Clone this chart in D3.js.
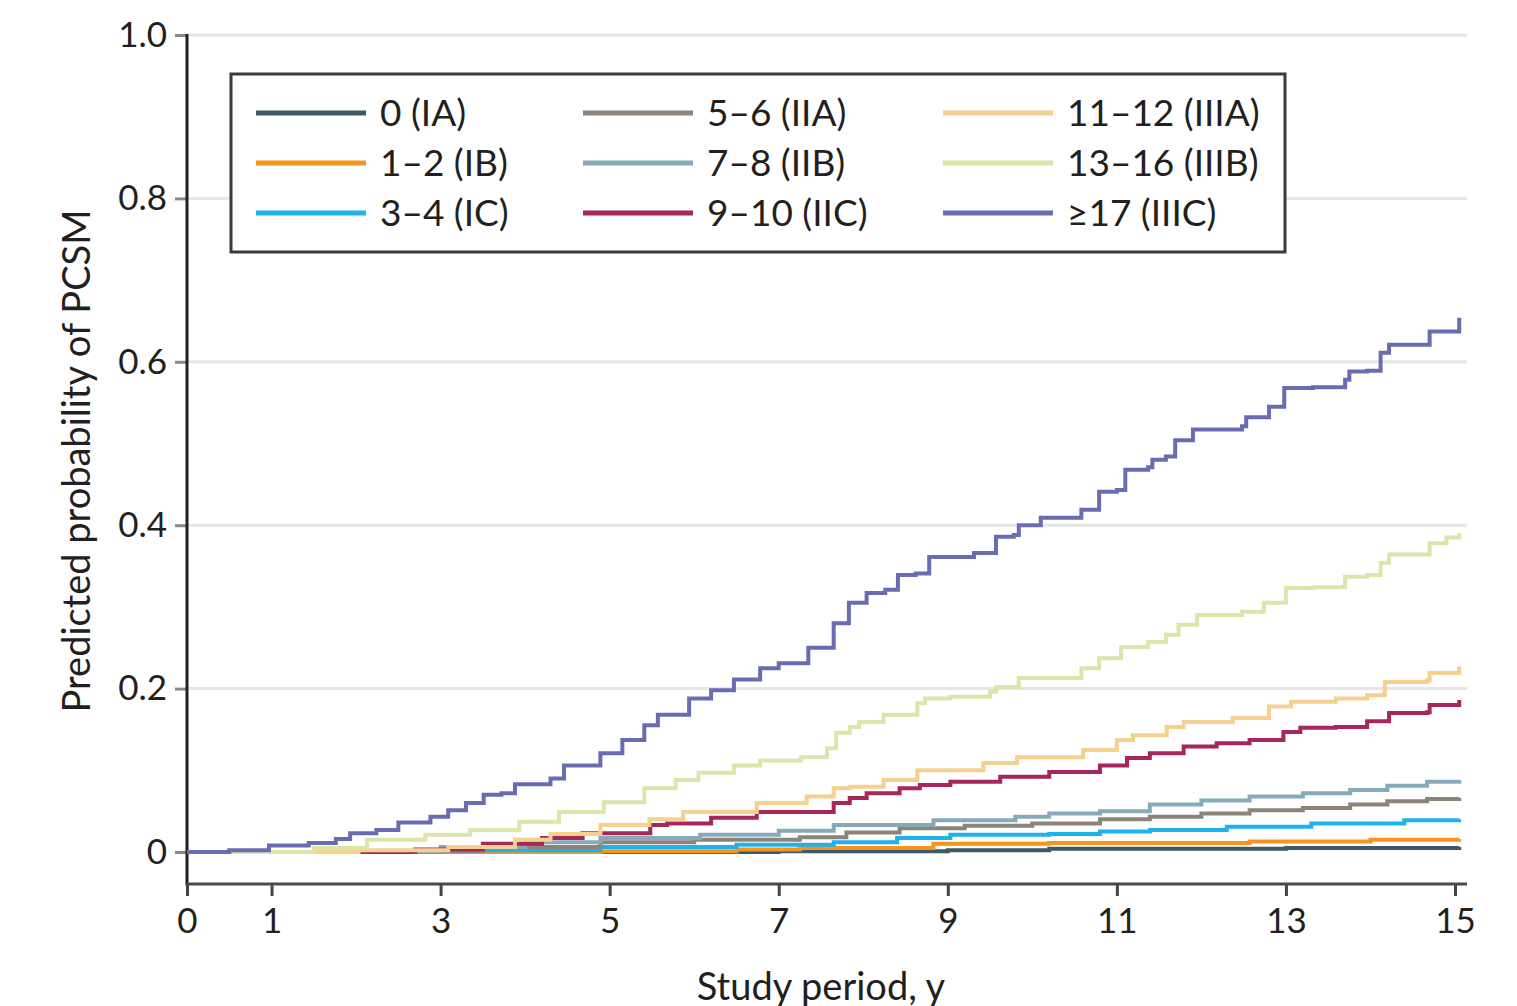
<!DOCTYPE html>
<html>
<head>
<meta charset="utf-8">
<script src="https://cdn.jsdelivr.net/npm/d3@7"></script>
<style>
  body { margin: 0; background: #fff; }
  svg { display: block; font-family: Lato, "Open Sans", sans-serif; }
</style>
</head>
<body>
<svg id="chart" width="1517" height="1006"></svg>
<script>
// legend labels, in drawing order
var categories = ["0 (IA)", "1\u20132 (IB)", "3\u20134 (IC)", "5\u20136 (IIA)", "7\u20138 (IIB)",
                  "9\u201310 (IIC)", "11\u201312 (IIIA)", "13\u201316 (IIIB)", "\u226517 (IIIC)"];
var colors = ["#3b5a66", "#f7941d", "#1db3ec", "#8c8478", "#86aabb",
              "#a6275b", "#f6d08f", "#dbe6ab", "#6a6cb2"];

var xTicks = [0, 1, 3, 5, 7, 9, 11, 13, 15];
var yTicks = [0, 0.2, 0.4, 0.6, 0.8, 1.0];

// [year, predicted probability]
var sIA = [[0,0],[7,0.001],[9,0.002],[10.2,0.004],[13,0.005],[15.05,0.006]];
var sIB = [[0,0],[4.89,0.001],[6.5,0.003],[7.25,0.005],[8.83,0.01],[10.2,0.011],[12.57,0.013],[14,0.015],[15.05,0.016]];
var sIC = [[0,0],[3,0.002],[4.89,0.006],[6.5,0.009],[7.65,0.012],[8.4,0.017],[9.03,0.021],[10.2,0.022],[10.8,0.025],
           [11.39,0.027],[12.3,0.031],[13.3,0.035],[14.4,0.039],[15.05,0.04]];
var sIIA = [[0,0],[2,0.001],[3.5,0.006],[4.89,0.012],[6,0.015],[7.25,0.018],[7.8,0.024],[8.43,0.029],[9.2,0.032],
            [10,0.035],[10.8,0.04],[11.39,0.043],[12,0.047],[12.57,0.051],[13.2,0.054],[13.76,0.058],[14.2,0.062],
            [14.67,0.065],[15.05,0.066]];
var sIIB = [[0,0],[1.5,0.001],[3,0.006],[4,0.012],[4.89,0.017],[6.07,0.021],[7,0.026],[7.65,0.033],[8.83,0.039],
            [9.8,0.043],[10.2,0.047],[10.8,0.05],[11.39,0.058],[12,0.063],[12.57,0.068],[13.2,0.072],[13.76,0.076],
            [14.2,0.081],[14.67,0.086],[15.05,0.088]];
var sIIC = [[0,0],[2.7,0.003],[3.5,0.01],[4.2,0.017],[4.68,0.023],[5.48,0.033],[5.68,0.035],[6.2,0.042],[6.74,0.049],
            [7.65,0.06],[7.84,0.066],[8.04,0.072],[8.43,0.078],[8.67,0.082],[9.03,0.086],[9.62,0.092],[10.2,0.098],
            [10.8,0.106],[11.12,0.115],[11.39,0.121],[11.79,0.129],[12.18,0.133],[12.57,0.137],[12.97,0.147],
            [13.17,0.152],[13.59,0.153],[13.96,0.16],[14.22,0.17],[14.67,0.171],[14.7,0.18],[15.05,0.186]];
var sIIIA = [[0,0],[1.1,0],[2.03,0.002],[3.09,0.006],[3.88,0.015],[4.3,0.022],[4.89,0.033],[5.47,0.04],[5.87,0.049],
             [6.74,0.06],[7.33,0.068],[7.65,0.078],[7.84,0.08],[8.24,0.088],[8.64,0.1],[9.42,0.109],[9.82,0.116],
             [10.6,0.125],[11,0.137],[11.19,0.143],[11.59,0.153],[11.79,0.159],[12.37,0.164],[12.8,0.178],
             [13.06,0.184],[13.59,0.188],[13.96,0.192],[14.17,0.208],[14.67,0.21],[14.7,0.219],[15.05,0.227]];
var sIIIB = [[0,0],[0.97,0],[1.5,0.005],[2.13,0.015],[2.82,0.021],[3.35,0.027],[3.93,0.037],[4.4,0.049],[4.93,0.061],
             [5.41,0.078],[5.78,0.088],[6.05,0.097],[6.47,0.106],[6.78,0.112],[7.26,0.116],[7.57,0.127],[7.68,0.146],
             [7.84,0.153],[7.95,0.159],[8.24,0.168],[8.64,0.182],[8.73,0.188],[9.03,0.19],[9.5,0.196],[9.57,0.202],
             [9.84,0.213],[10.58,0.225],[10.79,0.237],[11.05,0.251],[11.37,0.257],[11.58,0.266],[11.73,0.278],
             [11.95,0.29],[12.48,0.294],[12.74,0.305],[13,0.323],[13.32,0.324],[13.7,0.337],[13.96,0.339],
             [14.12,0.354],[14.22,0.364],[14.67,0.364],[14.7,0.378],[14.9,0.385],[15.05,0.39]];
var sIIIC = [[0,0],[0.5,0.002],[0.97,0.008],[1.44,0.011],[1.76,0.016],[1.93,0.023],[2.24,0.027],[2.5,0.036],
             [2.88,0.043],[3.09,0.051],[3.3,0.06],[3.51,0.07],[3.72,0.072],[3.88,0.083],[4.3,0.09],[4.46,0.106],
             [4.89,0.121],[5.15,0.137],[5.41,0.155],[5.57,0.168],[5.94,0.188],[6.2,0.198],[6.47,0.211],[6.78,0.225],
             [7,0.231],[7.35,0.25],[7.65,0.28],[7.83,0.305],[8.04,0.317],[8.26,0.321],[8.41,0.339],[8.62,0.341],
             [8.78,0.361],[9.31,0.366],[9.57,0.386],[9.78,0.388],[9.84,0.4],[10.1,0.409],[10.58,0.419],[10.79,0.441],
             [11,0.443],[11.1,0.468],[11.37,0.471],[11.42,0.48],[11.58,0.484],[11.69,0.504],[11.9,0.517],[12.48,0.521],
             [12.53,0.532],[12.8,0.545],[12.98,0.568],[13.32,0.569],[13.7,0.578],[13.75,0.588],[13.96,0.589],
             [14.12,0.611],[14.22,0.621],[14.67,0.621],[14.7,0.637],[14.9,0.637],[15.05,0.654]];

var seriesList = [sIA, sIB, sIC, sIIA, sIIB, sIIC, sIIIA, sIIIB, sIIIC];

var svg = d3.select('#chart');
var x = d3.scaleLinear().domain([0, 15]).range([187, 1455]);
var y = d3.scaleLinear().domain([0, 1]).range([852, 35]);
var axisY = 884, plotRight = 1467;
var textCol = '#231f20';

// gridlines
svg.append('g').selectAll('line').data(yTicks.filter(function(d){ return d > 0; })).join('line')
  .attr('x1', x(0)).attr('x2', plotRight)
  .attr('y1', function(d){ return y(d); }).attr('y2', function(d){ return y(d); })
  .attr('stroke', '#e6e6e8').attr('stroke-width', 3);

// y axis
var gy = svg.append('g').attr('transform', 'translate(' + x(0) + ',0)')
  .call(d3.axisLeft(y).tickValues(yTicks).tickSize(12).tickPadding(8)
    .tickFormat(function(d){ return d === 0 ? '0' : d.toFixed(1); }));
gy.select('.domain').remove();
gy.selectAll('.tick line').attr('stroke', '#8a8a8a').attr('stroke-width', 3);
gy.selectAll('.tick text').attr('font-size', 35).attr('fill', textCol).attr('font-family', 'Lato');
svg.append('line').attr('x1', x(0)).attr('x2', x(0)).attr('y1', y(1) - 1).attr('y2', axisY + 1.5)
  .attr('stroke', textCol).attr('stroke-width', 3);

// x axis
var gx = svg.append('g').attr('transform', 'translate(0,' + axisY + ')')
  .call(d3.axisBottom(x).tickValues(xTicks).tickSize(12).tickPadding(12).tickFormat(d3.format('d')));
gx.select('.domain').remove();
gx.selectAll('.tick line').attr('stroke', '#444').attr('stroke-width', 3);
gx.selectAll('.tick text').attr('font-size', 35).attr('fill', textCol).attr('font-family', 'Lato');
svg.append('line').attr('x1', x(0)).attr('x2', plotRight).attr('y1', axisY).attr('y2', axisY)
  .attr('stroke', '#4a4a4a').attr('stroke-width', 3);

// curves
var line = d3.line().x(function(d){ return x(d[0]); }).y(function(d){ return y(d[1]); }).curve(d3.curveStepAfter);
svg.append('g').selectAll('path').data(seriesList).join('path')
  .attr('d', line).attr('fill', 'none')
  .attr('stroke', function(d, i){ return colors[i]; })
  .attr('stroke-width', 4).attr('stroke-linejoin', 'miter');

// axis titles
svg.append('text').attr('x', 821).attr('y', 1000).attr('text-anchor', 'middle')
  .attr('font-size', 38).attr('fill', textCol).text('Study period, y');
svg.append('text').attr('transform', 'translate(90,461) rotate(-90)').attr('text-anchor', 'middle')
  .attr('font-size', 38).attr('fill', textCol).text('Predicted probability of PCSM');

// legend
var leg = svg.append('g');
leg.append('rect').attr('x', 231).attr('y', 74).attr('width', 1054).attr('height', 178)
  .attr('fill', '#fff').attr('stroke', '#3a3a3a').attr('stroke-width', 3);
var colX = [256, 583, 943], rowY = [113, 163, 213];
var items = leg.selectAll('g.item').data(categories).join('g').attr('class', 'item')
  .attr('transform', function(d, i){
    return 'translate(' + colX[Math.floor(i / 3)] + ',' + rowY[i % 3] + ')';
  });
items.append('line').attr('x1', 0).attr('x2', 110).attr('y1', 0).attr('y2', 0)
  .attr('stroke', function(d, i){ return colors[i]; }).attr('stroke-width', 5);
items.append('text').attr('x', 124).attr('y', 0).attr('dy', '0.36em')
  .attr('font-size', 37).attr('fill', textCol).text(function(d){ return d; });
</script>
</body>
</html>
